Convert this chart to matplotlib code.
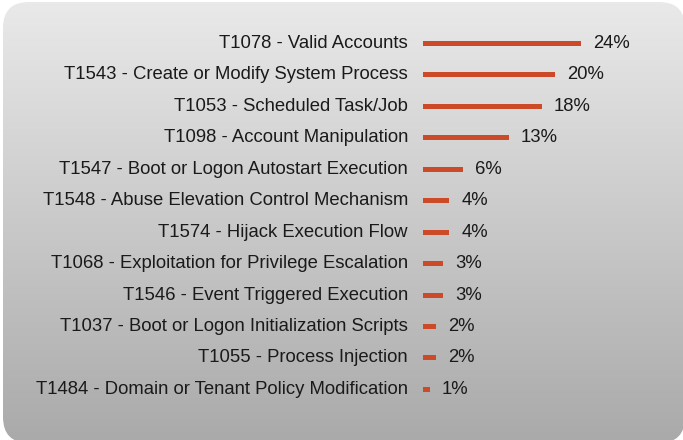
import numpy as np
import matplotlib
matplotlib.use("Agg")
import matplotlib.pyplot as plt
from matplotlib.patches import FancyBboxPatch

labels = [
    "T1078 - Valid Accounts",
    "T1543 - Create or Modify System Process",
    "T1053 - Scheduled Task/Job",
    "T1098 - Account Manipulation",
    "T1547 - Boot or Logon Autostart Execution",
    "T1548 - Abuse Elevation Control Mechanism",
    "T1574 - Hijack Execution Flow",
    "T1068 - Exploitation for Privilege Escalation",
    "T1546 - Event Triggered Execution",
    "T1037 - Boot or Logon Initialization Scripts",
    "T1055 - Process Injection",
    "T1484 - Domain or Tenant Policy Modification",
]
values = [24, 20, 18, 13, 6, 4, 4, 3, 3, 2, 2, 1]

W, H = 683, 440
bar_color = "#CC4A28"
text_color = "#1a1a1a"

plt.rcParams['font.family'] = ['Liberation Sans', 'DejaVu Sans']

fig = plt.figure(figsize=(W / 100, H / 100), dpi=100)
fig.patch.set_facecolor("white")

# background: rounded box with vertical grey gradient
bg = fig.add_axes([0, 0, 1, 1])
bg.set_xlim(0, W)
bg.set_ylim(H, 0)
bg.axis('off')
grad = np.linspace(0, 1, 256).reshape(-1, 1)
top, bottom = np.array([0.915, 0.915, 0.915]), np.array([0.665, 0.665, 0.665])
img = top + (bottom - top) * grad[..., None]
im = bg.imshow(np.repeat(img, 2, axis=1), extent=[3, 685, 443, 2], aspect='auto', zorder=0)
box = FancyBboxPatch((3, 2), 682, 441, boxstyle="round,pad=0,rounding_size=26",
                     transform=bg.transData, facecolor='none', edgecolor='none')
bg.add_patch(box)
im.set_clip_path(box)

# bars
px_per_unit = 158 / 24
x0 = 423
ax = fig.add_axes([x0 / W, 0, (W - x0) / W, 1])
ax.patch.set_alpha(0)
ax.set_xlim(0, (W - x0) / px_per_unit)
row0, step = 43.5, 31.45
ax.set_ylim((H - row0) / step, -row0 / step)
ax.axis('off')

y = np.arange(len(values))
ax.barh(y, values, height=5 / step, color=bar_color, left=0)

fs = 13.3
for i, (lab, v) in enumerate(zip(labels, values)):
    ax.annotate(lab, (0, i), xytext=(-15 * 0.72, 0), textcoords='offset points',
                ha='right', va='center', fontsize=fs, color=text_color)
    ax.annotate(f"{v}%", (v, i), xytext=(12 * 0.72, 0), textcoords='offset points',
                ha='left', va='center', fontsize=fs, color=text_color)

fig.savefig("out.png", dpi=100, facecolor=fig.get_facecolor())
